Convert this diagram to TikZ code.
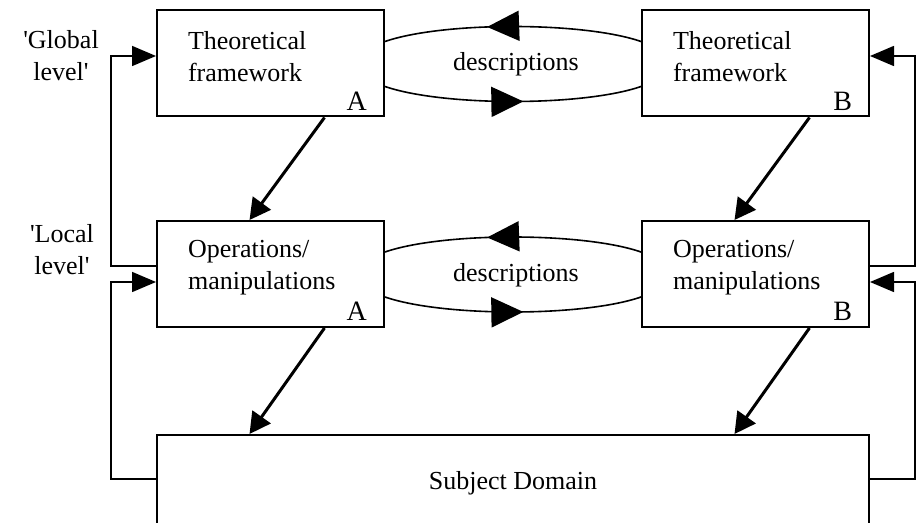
\documentclass[tikz,border=0pt]{standalone}
\usepackage{fontspec}
\setmainfont{Liberation Serif}
\usetikzlibrary{arrows.meta,calc,decorations.markings}

\tikzset{
  box/.style={draw,line width=1pt,minimum width=113.5pt,minimum height=53pt,inner sep=0pt},
  txt/.style={align=left,font=\fontsize{13}{16}\selectfont},
  tag/.style={font=\fontsize{14}{16}\selectfont,anchor=base east},
  flow/.style={line width=1.5pt,-{Triangle[length=10.5pt,width=11pt]}},
  back/.style={line width=0.8pt,-{Triangle[length=12pt,width=10pt]}},
  desc/.style={line width=0.8pt,postaction={decorate},
    decoration={markings,mark=at position #1 with {\arrow{Triangle[length=16pt,width=15pt]}}}},
}

\begin{document}
\begin{tikzpicture}[x=0.5pt,y=-0.5pt]
\clip (0,0) rectangle (920,523);
\foreach \n/\x/\y in {tfA/270.5/63.5,tfB/755.5/63.5,opA/270.5/274,opB/755.5/274}
    \node[box] (\n) at (\x,\y) {};
\node[box,minimum width=356pt,minimum height=48pt,font=\fontsize{13}{16}\selectfont] (sd) at (513,483) {Subject Domain};

\foreach \c in {A,B}{
    \node[txt,anchor=west] (tf\c-t) at ($(tf\c.north west)+(25,47)$) {Theoretical\\framework};
    \node[txt,anchor=west] (op\c-t) at ($(op\c.north west)+(25,48)$) {Operations/\\manipulations};
    \node[tag] (tf\c-l) at ($(tf\c.south east)+(-11,-7)$) {\c};
    \node[tag] (op\c-l) at ($(op\c.south east)+(-11,-7)$) {\c};
}

\foreach \row in {tf,op}{
    \draw[desc=0.6] ($(\row B.west)+(0,-22)$) .. controls +(-58,-20) and +(58,-20) .. ($(\row A.east)+(0,-22)$);
    \draw[desc=0.54] ($(\row A.east)+(0,23)$) .. controls +(58,20) and +(-58,20) .. ($(\row B.west)+(0,23)$);
    \node[txt] (\row D) at ($(\row A.east)!0.5!(\row B.west)+(3,1)$) {descriptions};
}

\foreach \a/\b in {tfA/opA,tfB/opB,opA/sd,opB/sd}
    \draw[flow] ($(\a.south)+(54,0)$) -- ($(\b.north -| \a.south)+(-21,0)$);

\draw[back] ($(opA.west)+(0,-8)$) -- ++(-45,0) |- ($(tfA.west)+(0,-7.5)$);
\draw[back] ($(sd.west)+(0,-4)$) -- ++(-45,0) |- ($(opA.west)+(0,8)$);
\draw[back] ($(opB.east)+(0,-8)$) -- ++(45,0) |- ($(tfB.east)+(0,-7.5)$);
\draw[back] ($(sd.east)+(0,-4)$) -- ++(45,0) |- ($(opB.east)+(0,8)$);

\node[txt,align=center] (glob) at (61,56) {\textquotesingle Global\\level\textquotesingle};
\node[txt,align=center] (loc) at (62,250) {\textquotesingle Local\\level\textquotesingle};
\end{tikzpicture}
\end{document}
